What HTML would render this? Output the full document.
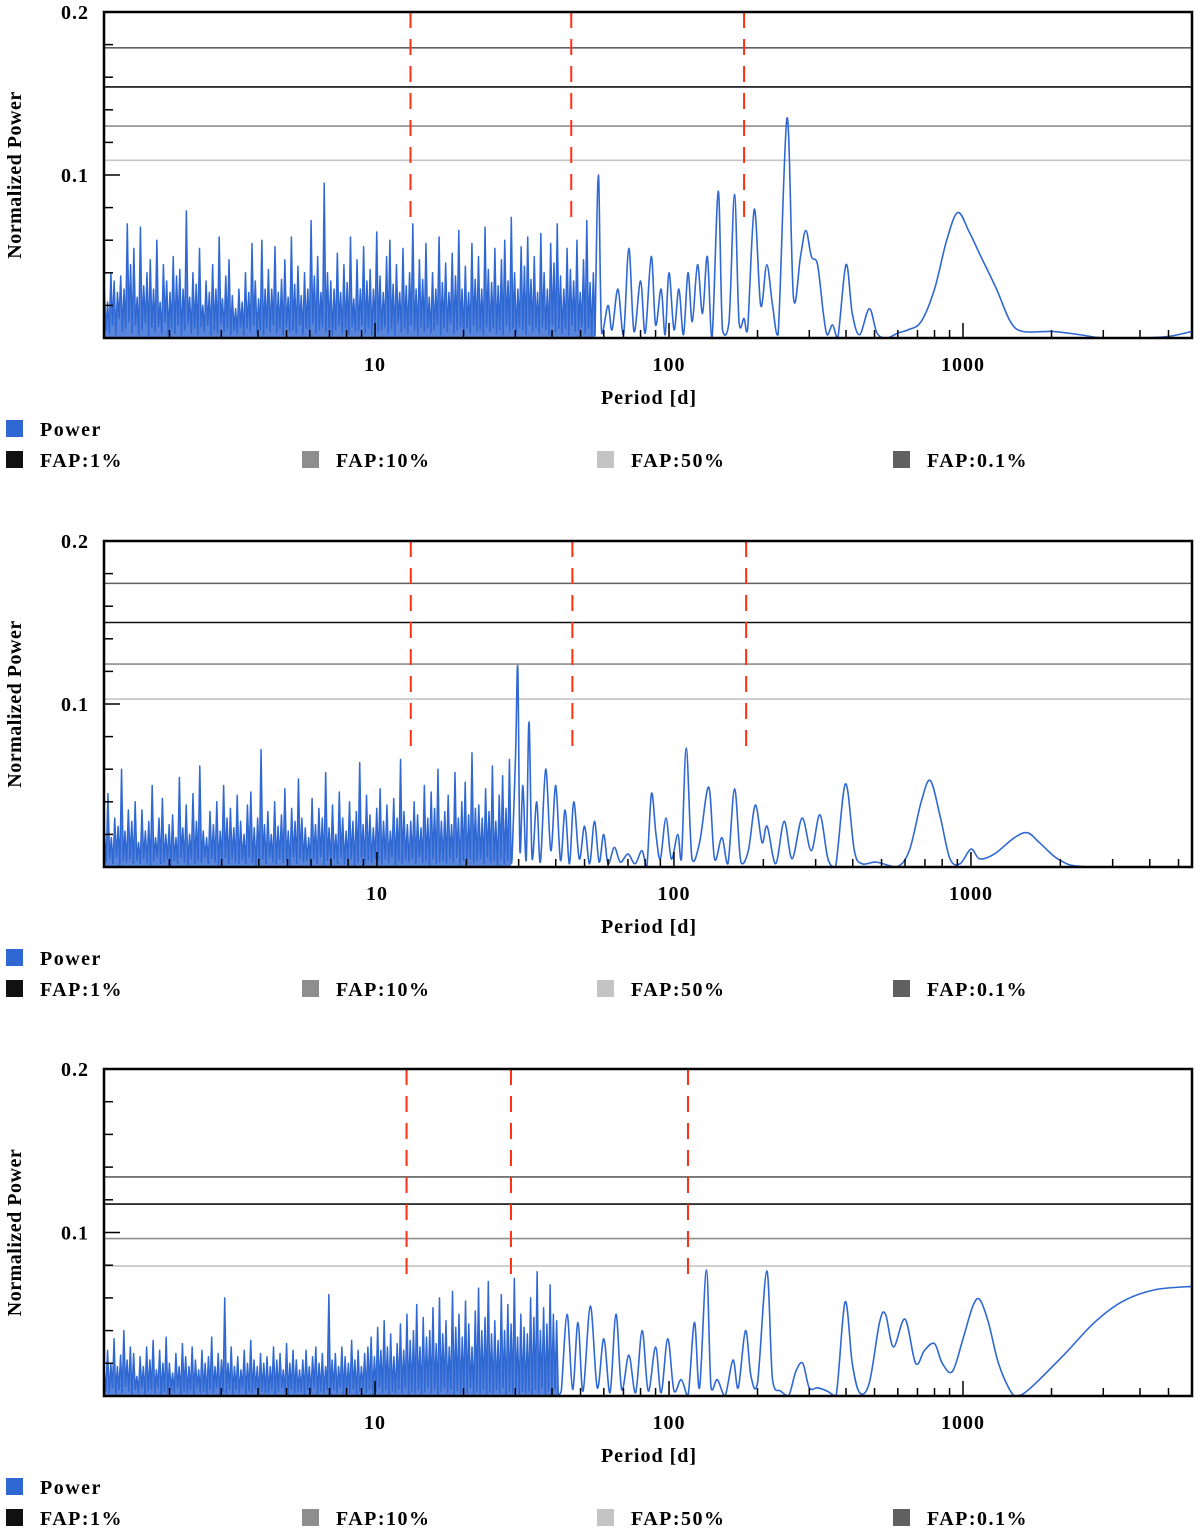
<!DOCTYPE html>
<html><head><meta charset="utf-8"><style>
body{margin:0;background:#fff;}
svg{display:block;font-family:"Liberation Serif",serif;font-weight:bold;letter-spacing:1px;}
</style></head><body>
<svg id="chart" width="1200" height="1531" viewBox="0 0 1200 1531" xmlns="http://www.w3.org/2000/svg"></svg>
<script>
// ---- Data (power values for noise in units of 0.001, on a regular log-period grid) ----
const noise1 = [30,5,22,3,40,8,35,2,28,12,38,4,30,6,70,10,45,3,55,8,25,2,68,5,32,9,40,1,48,6,30,4,60,7,22,3,45,10,35,2,28,6,50,3,38,8,42,2,30,5,78,9,25,3,40,6,33,2,55,7,20,4,35,8,28,2,45,5,30,3,62,9,24,4,38,6,48,2,26,5,18,3,30,7,22,2,40,6,28,4,58,8,35,3,24,5,60,2,30,6,42,4,30,8,56,3,28,6,36,2,48,7,25,4,62,5,33,3,44,8,26,2,40,6,30,4,72,9,38,3,50,5,28,7,95,4,40,6,35,2,30,5,52,8,28,3,45,6,34,2,62,7,24,4,48,5,30,8,56,3,35,6,42,2,30,8,65,4,38,5,28,7,50,3,60,6,33,2,45,9,28,4,55,6,32,3,40,8,70,5,30,2,48,7,36,4,58,6,25,3,40,5,30,8,62,2,34,6,46,4,28,9,52,3,38,5,66,7,30,2,44,6,28,3,58,8,36,4,50,5,30,2,68,7,42,4,34,6,55,3,32,5,48,2,60,8,35,4,74,6,40,3,30,7,56,5,44,2,62,8,36,4,50,6,28,3,64,7,40,5,30,2,58,8,46,4,70,6,38,3,30,6,55,2,42,8,35,4,60,5,28,7,48,3,72,6,34,2,40,5];
const noise1Range = [1.2, 56];
const periods1 = [56,57.5,59,62,64,67,70,73,76,80,83,87,90,94,97,100,104,108,112,116,120,125,130,135,140,147,152,160,167,173,180,185,195,205,215,225,235,252,265,280,292,305,320,335,345,360,375,400,420,445,480,510,550,600,650,720,800,880,960,1050,1150,1300,1450,1600,2000,2500,3000,4000,5000,6000];
const powers1 = [0.002,0.1,0.003,0.02,0.005,0.03,0.002,0.055,0.004,0.035,0.003,0.05,0.008,0.03,0.002,0.04,0.005,0.03,0.002,0.04,0.01,0.045,0.015,0.05,0,0.09,0.005,0.01,0.088,0.01,0.012,0.005,0.079,0.02,0.045,0.02,0.002,0.135,0.025,0.05,0.066,0.05,0.045,0.015,0.002,0.008,0,0.045,0.015,0.002,0.018,0.003,0,0.003,0.005,0.01,0.03,0.06,0.077,0.065,0.05,0.03,0.01,0.004,0.004,0.002,0,0,0.001,0.004];

const noise2 = [20,3,45,5,18,2,30,6,25,1,60,4,22,3,35,5,28,2,40,4,15,2,35,5,22,3,28,1,50,4,18,6,30,2,42,3,20,5,26,1,32,4,18,2,55,6,24,3,38,1,20,5,45,2,28,4,62,3,22,6,18,2,34,5,26,3,40,1,22,4,50,6,30,2,36,5,24,3,44,2,28,5,20,2,38,6,46,3,24,1,30,4,72,5,26,2,34,6,20,3,40,2,25,5,32,3,48,4,22,1,36,6,28,2,54,5,30,3,24,4,18,3,42,5,26,2,36,6,30,1,58,4,24,3,38,5,20,2,46,6,30,2,22,4,40,5,28,1,34,3,64,6,26,2,44,4,32,3,24,5,36,4,48,2,28,5,38,3,22,6,42,1,30,4,66,2,34,5,26,3,28,5,40,2,32,6,24,3,50,4,30,1,46,5,36,2,60,3,28,4,34,2,44,5,26,3,58,6,30,1,40,4,52,2,32,5,70,3,36,4,38,5,30,2,48,6,34,3,62,4,28,1,44,5,56,2,36,4,66,3];
const noise2Range = [1.21, 28.3];
const periods2 = [28.5,29.3,29.8,30.3,31,31.8,32.5,33.3,34.5,35.5,37,38.5,40,41.5,43,44.5,46,48,50,52,54,56,58,60,63,66,70,74,78,81,84,87,90,94,98,103,106,110,115,122,131,137,145,152,160,168,178,188,198,206,220,235,250,270,290,310,330,350,378,405,430,480,560,620,680,730,790,850,920,1000,1070,1200,1400,1550,1700,2000,2500,5550];
const powers2 = [0.005,0.07,0.122,0.01,0.05,0.004,0.089,0.005,0.04,0.003,0.06,0.01,0.05,0.004,0.035,0.002,0.04,0.005,0.025,0.002,0.028,0.003,0.02,0.002,0.012,0.003,0.008,0.002,0.01,0,0.045,0.02,0.005,0.03,0.005,0.02,0.005,0.073,0.005,0.015,0.049,0.005,0.018,0.002,0.048,0.003,0.01,0.038,0.015,0.025,0.002,0.028,0.005,0.03,0.01,0.032,0.005,0,0.051,0.01,0.002,0.003,0,0.01,0.04,0.053,0.03,0.005,0.002,0.011,0.005,0.008,0.018,0.021,0.015,0.004,0,0];

const noise3 = [15,3,28,2,20,5,35,1,18,4,25,2,40,6,22,3,30,1,26,4,12,2,24,5,18,1,30,3,22,4,34,2,16,5,28,1,20,3,36,2,20,4,14,2,26,5,18,1,32,3,24,2,18,4,30,1,22,5,16,2,28,3,20,1,24,4,36,2,18,5,26,1,22,3,60,2,20,4,30,1,18,4,24,2,16,5,28,1,20,3,34,2,22,4,18,1,26,3,20,2,24,2,18,4,30,1,22,3,26,5,16,2,32,1,20,4,28,2,22,3,16,3,22,1,28,4,18,2,24,5,30,1,20,3,26,2,18,4,62,1,22,4,26,2,18,5,30,1,24,3,20,2,34,4,22,1,28,3,18,5,26,2,30,4,36,1,24,3,42,5,28,2,46,4,30,1,38,3,24,2,32,4,44,2,28,5,50,1,34,3,40,2,56,4,30,1,48,3,36,5,40,2,54,4,32,1,60,3,38,5,46,2,30,4,64,1,42,3,50,2,36,4,58,2,44,5,30,1,52,3,66,2,40,4,48,1,70,3,38,2,46,4,34,2,62,5,40,1,56,3,44,2,72,4,36,1,50,3,42,2,38,3,60,1,48,4,76,2,40,5,54,1,44,3,68,2,50,4,46,1];
const noise3Range = [1.2, 42];
const periods3 = [43,45,47,49,51,54,57,60,63,66,69,73,77,81,85,90,94,99,104,110,116,122,127,134,139,146,155,165,172,182,190,200,215,225,240,255,270,285,300,320,345,370,397,420,445,480,520,545,580,635,690,740,800,850,920,1000,1080,1140,1220,1320,1450,1530,1700,2200,2800,3500,4500,6000];
const powers3 = [0.003,0.05,0.004,0.045,0.003,0.055,0.005,0.035,0.002,0.05,0.004,0.025,0.002,0.04,0.003,0.03,0.002,0.035,0.003,0.01,0,0.045,0.005,0.077,0.005,0.01,0,0.022,0.005,0.04,0.012,0.008,0.0765,0.01,0.003,0,0.015,0.02,0.005,0.005,0.003,0,0.0575,0.02,0.002,0.008,0.045,0.05,0.03,0.047,0.02,0.028,0.032,0.02,0.015,0.035,0.055,0.059,0.045,0.02,0.003,0,0.005,0.025,0.045,0.058,0.065,0.067];

const fap1 = [0.178, 0.154, 0.130, 0.109];
const fap2 = [0.174, 0.150, 0.1245, 0.103];
const fap3 = [0.134, 0.1174, 0.0963, 0.0795];
const redPeriods1 = [13.2, 46.5, 180];
const redPeriods2 = [13.0, 45.5, 175];
const redPeriods3 = [12.8, 29, 116];
const redTop = [0.2, 0.2, 0.2];
const redBottom = [0.069, 0.07, 0.07];
const xTickLabels = ["10", "100", "1000"];
const yTickLabels = ["0.1", "0.2"];
const fapNames = ["FAP:0.1%", "FAP:1%", "FAP:10%", "FAP:50%"];

const NS = "http://www.w3.org/2000/svg";
const svg = document.getElementById("chart");
const fapColors = ["#606060", "#111111", "#8e8e8e", "#c4c4c4"];
const BLUE = "#2f68d3";

function mk(tag, attrs, parent) {
  const e = document.createElementNS(NS, tag);
  for (const k in attrs) e.setAttribute(k, attrs[k]);
  (parent || svg).appendChild(e);
  return e;
}

function smoothPath(pts, yMax) {
  let d = "M" + pts[0][0].toFixed(2) + "," + pts[0][1].toFixed(2);
  for (let i = 0; i < pts.length - 1; i++) {
    const p0 = pts[i - 1] || pts[i], p1 = pts[i], p2 = pts[i + 1], p3 = pts[i + 2] || p2;
    const c1x = p1[0] + (p2[0] - p0[0]) / 6, c1y = Math.min(yMax, p1[1] + (p2[1] - p0[1]) / 6);
    const c2x = p2[0] - (p3[0] - p1[0]) / 6, c2y = Math.min(yMax, p2[1] - (p3[1] - p1[1]) / 6);
    d += " C" + c1x.toFixed(2) + "," + c1y.toFixed(2) + " " + c2x.toFixed(2) + "," + c2y.toFixed(2) + " " + p2[0].toFixed(2) + "," + p2[1].toFixed(2);
  }
  return d;
}

const panels = [
  {top:12, bot:338, left:104, right:1192, xmin:1.197, xmax:6010, noise:noise1, nr:noise1Range, per:periods1, pow:powers1, fap:fap1, red:redPeriods1, leg:420},
  {top:541, bot:867, left:104, right:1192, xmin:1.205, xmax:5550, noise:noise2, nr:noise2Range, per:periods2, pow:powers2, fap:fap2, red:redPeriods2, leg:949},
  {top:1069, bot:1396, left:104, right:1192, xmin:1.197, xmax:6010, noise:noise3, nr:noise3Range, per:periods3, pow:powers3, fap:fap3, red:redPeriods3, leg:1478}
];

panels.forEach((p, pi) => {
  const g = mk("g", {});
  
  
  const lx0 = Math.log10(p.xmin), lx1 = Math.log10(p.xmax);
  const X = v => p.left + (Math.log10(v) - lx0) / (lx1 - lx0) * (p.right - p.left);
  const Y = v => p.bot - v / 0.2 * (p.bot - p.top);

  p.fap.forEach((f, i) => {
    const l = mk("line", {x1:p.left, x2:p.right, y1:Y(f), y2:Y(f), stroke:fapColors[i], "stroke-width":1.6}, g);
    
    
  });

  p.red.forEach((r, i) => {
    const l = mk("line", {x1:X(r), x2:X(r), y1:Y(redTop[pi]), y2:Y(redBottom[pi]), stroke:"#ff3010", "stroke-width":2, "stroke-dasharray":"16,11"}, g);
    
    
  });

  const npts = [];
  const n = p.noise.length;
  const a = Math.log10(p.nr[0]), b = Math.log10(p.nr[1]);
  for (let i = 0; i < n; i++) {
    const per = Math.pow(10, a + (b - a) * i / (n - 1));
    npts.push(X(per).toFixed(2) + "," + Y(p.noise[i] / 1000).toFixed(2));
  }
  const firstX = X(p.nr[0]).toFixed(2), lastX = X(p.nr[1]).toFixed(2);
  const fill = mk("polygon", {points:firstX + "," + p.bot + " " + npts.join(" ") + " " + lastX + "," + p.bot, fill:BLUE, "fill-opacity":0.8, stroke:"none"}, g);
  
  
  const nl = mk("polyline", {points:npts.join(" "), fill:"none", stroke:BLUE, "stroke-width":1.5, "stroke-linejoin":"round"}, g);
  
  

  const spts = [[+lastX, Y(p.noise[n - 1] / 1000)]];
  for (let i = 0; i < p.per.length; i++) spts.push([X(p.per[i]), Y(p.pow[i])]);
  const sl = mk("path", {d:smoothPath(spts, p.bot), fill:"none", stroke:BLUE, "stroke-width":1.6, "stroke-linejoin":"round"}, g);
  
  

  for (let d = 1; d <= 1000; d *= 10) {
    for (let m = 1; m <= 9; m++) {
      const v = d * m;
      if (v < p.xmin || v > p.xmax) continue;
      const major = m === 1;
      mk("line", {x1:X(v), x2:X(v), y1:p.bot, y2:p.bot - (major ? 15 : 8), stroke:"#000", "stroke-width":1.5}, g);
    }
  }
  for (let k = 1; k < 10; k++) {
    const v = k * 0.02;
    const major = k === 5;
    mk("line", {x1:p.left, x2:p.left + (major ? 16 : 9), y1:Y(v), y2:Y(v), stroke:"#000", "stroke-width":1.5}, g);
  }

  const fr = mk("rect", {x:p.left, y:p.top, width:p.right - p.left, height:p.bot - p.top, fill:"none", stroke:"#000", "stroke-width":2.5}, g);
  
  

  xTickLabels.forEach(t => {
    const e = mk("text", {x:X(+t), y:p.bot + 33, "text-anchor":"middle", "font-size":20}, g);
    e.textContent = t;
    
    
  });
  yTickLabels.forEach(t => {
    const e = mk("text", {x:89, y:Y(+t) + 7, "text-anchor":"end", "font-size":20}, g);
    e.textContent = t;
    
    
  });
  const xt = mk("text", {x:649, y:p.bot + 66, "text-anchor":"middle", "font-size":20}, g);
  xt.textContent = "Period [d]";
  
  
  const cy = (p.top + p.bot) / 2;
  const yt = mk("text", {x:21, y:cy, "text-anchor":"middle", "font-size":20, "letter-spacing":"0.5px", transform:"rotate(-90 21 " + cy + ")"}, g);
  yt.textContent = "Normalized Power";
  
  

  const lg = mk("g", {}, g);
  
  
  mk("rect", {x:6, y:p.leg, width:17, height:17, fill:BLUE}, lg);
  const pt = mk("text", {x:40, y:p.leg + 16, "font-size":20, "letter-spacing":"1.5px"}, lg);
  pt.textContent = "Power";
  
  
  const order = [1, 2, 3, 0];
  const xs = [6, 302, 597, 893];
  order.forEach((fi, j) => {
    mk("rect", {x:xs[j], y:p.leg + 31, width:17, height:17, fill:fapColors[fi]}, lg);
    const t = mk("text", {x:xs[j] + 34, y:p.leg + 47, "font-size":20, "letter-spacing":"1.5px"}, lg);
    t.textContent = fapNames[fi];
    
    
  });
});
</script>
</body></html>
